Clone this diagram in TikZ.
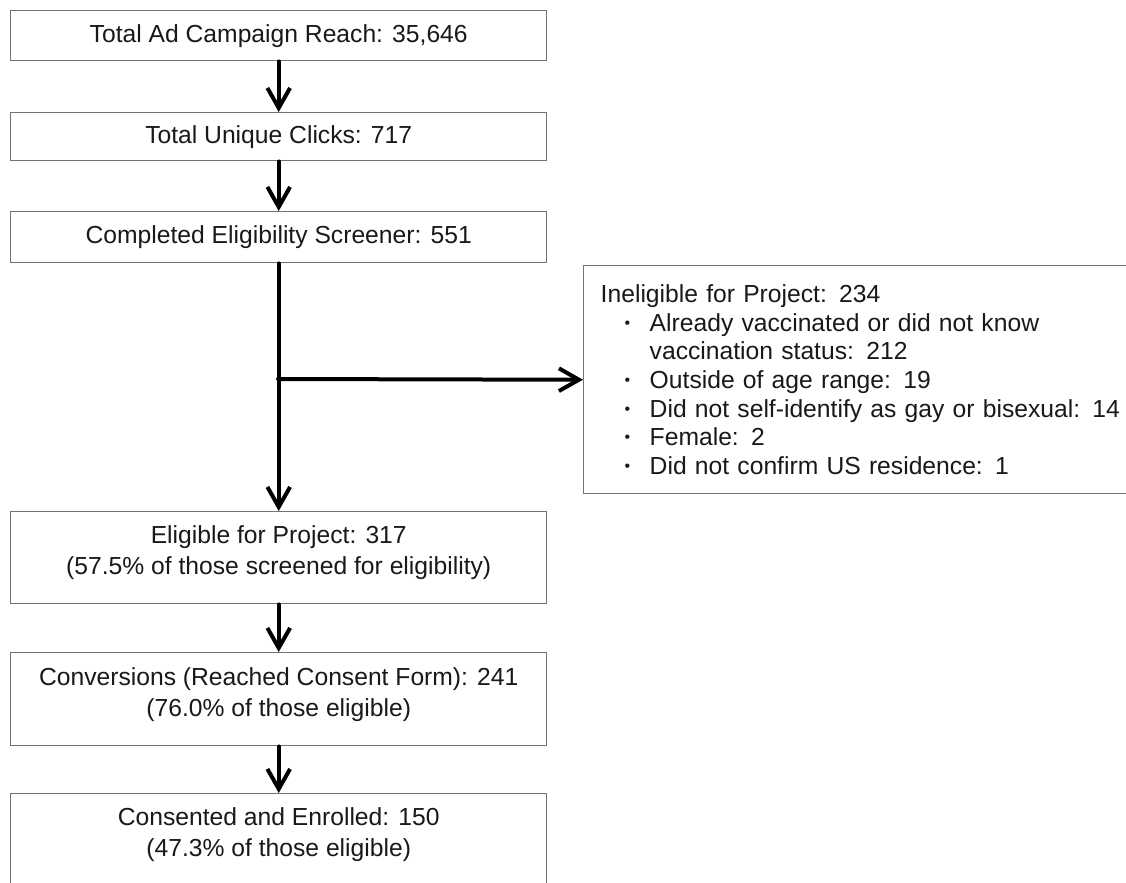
\documentclass[tikz,border=0pt]{standalone}
\usepackage{fontspec}
\setmainfont{Liberation Sans}
\usetikzlibrary{arrows.meta}
\newcommand{\bul}{\makebox[36.75pt][l]{\hspace{18pt}\raisebox{2.2pt}{\fontsize{12}{12}\selectfont\textbullet}}}
\begin{document}
\begin{tikzpicture}[x=0.75pt,y=-0.75pt,
  box/.style={draw=black!55, line width=1.1pt, fill=white, minimum width=402pt,
    inner sep=0pt, align=center, anchor=north west, text=black!90,
    font=\fontsize{18.5}{21.5}\selectfont},
  twoline/.style={font=\fontsize{18.5}{23.2}\selectfont, text depth=11pt},
  flow/.style={line width=3pt, line cap=round,
    -{Straight Barb[length=15pt,width=17pt]}}
]
\useasboundingbox (0,0) rectangle (1126,882);

\node[box, minimum height=37.5pt] (b1) at (10,10) {Total Ad Campaign Reach: 35,646};
\node[box, minimum height=36pt] (b2) at (10,112) {Total Unique Clicks: 717};
\node[box, minimum height=38.25pt] (b3) at (10,211) {Completed Eligibility Screener: 551};
\node[box, twoline, minimum height=69pt] (b4) at (10,511) {Eligible for Project: 317\\(57.5\% of those screened for eligibility)};
\node[box, twoline, minimum height=69.75pt] (b5) at (10,652) {Conversions (Reached Consent Form): 241\\(76.0\% of those eligible)};
\node[box, twoline, minimum height=69pt] (b6) at (10,793) {Consented and Enrolled: 150\\(47.3\% of those eligible)};

\node[box, minimum width=432.75pt, minimum height=171pt, inner xsep=12.75pt,
  text width=407.25pt, align=left] (ri) at (583,265)
  {Ineligible for Project: 234\\
   \bul Already vaccinated or did not know\\
   \hspace*{36.75pt}vaccination status: 212\\
   \bul Outside of age range: 19\\
   \bul Did not self-identify as gay or bisexual: 14\\
   \bul Female: 2\\
   \bul Did not confirm US residence: 1};

\coordinate (br) at (278,379);

\draw[flow] (b1.south) -- (b2.north);
\draw[flow] (b2.south) -- (b3.north);
\draw[flow] (b3.south) -- (b4.north);
\draw[flow] (br) -- (ri.west);
\draw[flow] (b4.south) -- (b5.north);
\draw[flow] (b5.south) -- (b6.north);
\end{tikzpicture}
\end{document}
